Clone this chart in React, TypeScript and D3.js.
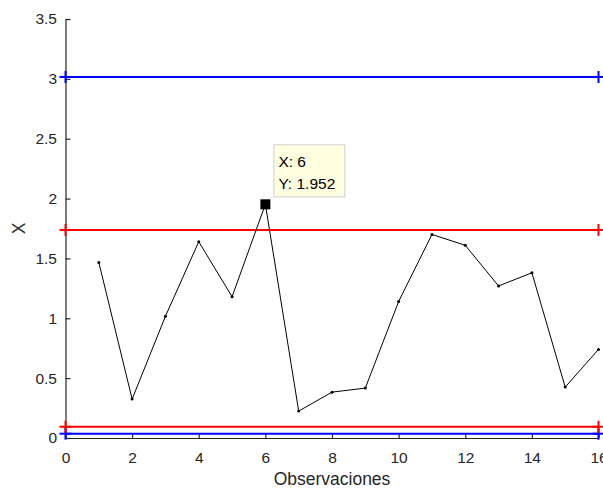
import React, { useEffect, useRef } from 'react';
import * as d3 from 'd3';

const obs = [1, 2, 3, 4, 5, 6, 7, 8, 9, 10, 11, 12, 13, 14, 15, 16];
const values = [1.467, 0.325, 1.017, 1.64, 1.18, 1.952, 0.225, 0.383, 0.417, 1.14, 1.70, 1.61, 1.27, 1.38, 0.425, 0.74];
const blueLimits = [3.016, 0.036];
const redLimits = [1.738, 0.094];
const xTicks = [0, 2, 4, 6, 8, 10, 12, 14, 16];
const yTicks = [0, 0.5, 1, 1.5, 2, 2.5, 3, 3.5];
const tipIndex = 5;

const App = () => {
  const svgRef = useRef<SVGSVGElement>(null);

  useEffect(() => {
    const svg = d3.select(svgRef.current);
    svg.selectAll('*').remove();

    const font = 'Liberation Sans, Arial, sans-serif';
    const axisColor = '#262626';

    const x = d3.scaleLinear().domain([0, 16]).range([65.5, 598.5]);
    const y = d3.scaleLinear().domain([0, 3.5]).range([438, 19]);

    // limit lines with + markers at both ends
    const drawLimit = (v: number, color: string) => {
      svg.append('line')
        .attr('x1', x(0)).attr('x2', x(16))
        .attr('y1', y(v)).attr('y2', y(v))
        .attr('stroke', color).attr('stroke-width', 2);
      [0, 16].forEach(xv => {
        svg.append('line')
          .attr('x1', x(xv)).attr('x2', x(xv))
          .attr('y1', y(v) - 6).attr('y2', y(v) + 6)
          .attr('stroke', color).attr('stroke-width', 2);
        svg.append('line')
          .attr('x1', x(xv) - 6).attr('x2', x(xv) + 6)
          .attr('y1', y(v)).attr('y2', y(v))
          .attr('stroke', color).attr('stroke-width', 2);
      });
    };

    // axes (MATLAB style, inward ticks)
    const xAxis = svg.append('g')
      .attr('transform', `translate(0,${y(0)})`)
      .call(d3.axisBottom(x).tickValues(xTicks).tickSizeInner(-5).tickSizeOuter(0).tickPadding(14));
    xAxis.select('.domain').attr('stroke', axisColor).attr('stroke-width', 1.2);
    xAxis.selectAll('.tick line').attr('stroke', axisColor).attr('stroke-width', 1.2);
    xAxis.selectAll('.tick text').attr('fill', axisColor).attr('font-size', '15.5px').attr('font-family', font);

    const yAxis = svg.append('g')
      .attr('transform', `translate(${x(0)},0)`)
      .call(d3.axisLeft(y).tickValues(yTicks).tickFormat(d3.format('')).tickSizeInner(-5).tickSizeOuter(0).tickPadding(8.5));
    yAxis.select('.domain').attr('stroke', axisColor).attr('stroke-width', 1.2);
    yAxis.selectAll('.tick line').attr('stroke', axisColor).attr('stroke-width', 1.2);
    yAxis.selectAll('.tick text').attr('fill', axisColor).attr('font-size', '15.5px').attr('font-family', font);

    blueLimits.forEach(v => drawLimit(v, '#0000ff'));
    redLimits.forEach(v => drawLimit(v, '#ff0000'));

    // data line
    const line = d3.line<number>()
      .x((d, i) => x(obs[i]))
      .y(d => y(d));

    svg.append('path')
      .datum(values)
      .attr('fill', 'none')
      .attr('stroke', '#000')
      .attr('stroke-width', 1)
      .attr('d', line);

    svg.selectAll('.pt')
      .data(values)
      .enter().append('circle')
      .attr('cx', (d, i) => x(obs[i]))
      .attr('cy', d => y(d))
      .attr('r', 1.5)
      .attr('fill', '#000');

    // data tip
    const tx = x(obs[tipIndex]);
    const ty = y(values[tipIndex]);
    svg.append('rect')
      .attr('x', tx - 5).attr('y', ty - 5)
      .attr('width', 10).attr('height', 10)
      .attr('fill', '#000');

    svg.append('rect')
      .attr('x', tx + 8.5).attr('y', ty - 59.5)
      .attr('width', 71).attr('height', 52)
      .attr('fill', '#ffffe1')
      .attr('stroke', '#cfcfcf')
      .attr('stroke-width', 1);

    svg.append('text')
      .attr('x', tx + 13).attr('y', ty -37)
      .attr('font-family', font).attr('font-size', '15.5px').attr('fill', '#000')
      .text(`X: ${obs[tipIndex]}`);
    svg.append('text')
      .attr('x', tx + 13).attr('y', ty - 15)
      .attr('font-family', font).attr('font-size', '15.5px').attr('fill', '#000')
      .text(`Y: ${values[tipIndex]}`);

    // axis labels
    svg.append('text')
      .attr('x', (x(0) + x(16)) / 2)
      .attr('y', 485)
      .attr('text-anchor', 'middle')
      .attr('font-family', font).attr('font-size', '17.5px').attr('fill', axisColor)
      .text('Observaciones');

    svg.append('text')
      .attr('transform', `translate(25,${(y(0) + y(3.5)) / 2}) rotate(-90)`)
      .attr('text-anchor', 'middle')
      .attr('font-family', font).attr('font-size', '17.5px').attr('fill', axisColor)
      .text('X');
  }, []);

  return (
    <svg ref={svgRef} width={603} height={489} style={{ position: 'absolute', left: 0, top: 0, background: '#fff' }}></svg>
  );
};

export default App;
